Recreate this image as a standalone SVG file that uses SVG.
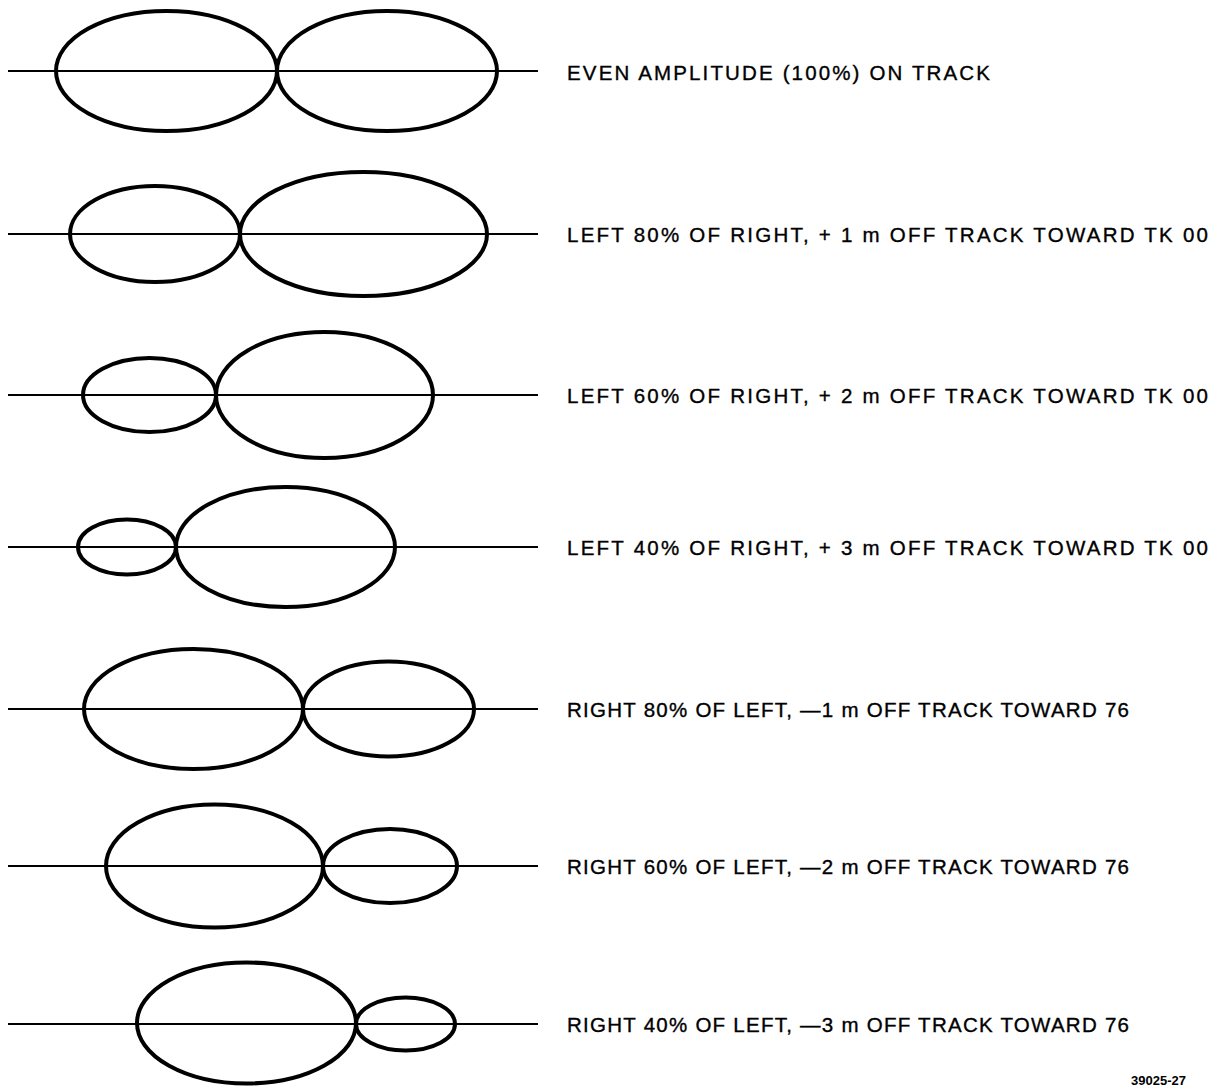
<svg xmlns="http://www.w3.org/2000/svg" width="1220" height="1087" viewBox="0 0 1220 1087">
<style>
.bg{fill:#fff}
.lobe{fill:none;stroke:#000;stroke-width:4}
.axis{stroke:#000;stroke-width:2}
.lbl{font-family:"Liberation Sans",Arial,sans-serif;font-size:20.5px;fill:#000;stroke:#000;stroke-width:0.35}
.code{font-family:"Liberation Sans",Arial,sans-serif;font-size:13px;font-weight:bold;fill:#000}
</style>
<rect class="bg" x="0" y="0" width="1220" height="1087"/>
<g id="axes">
<line class="axis" x1="8" y1="71" x2="538" y2="71"/>
<line class="axis" x1="8" y1="234" x2="538" y2="234"/>
<line class="axis" x1="8" y1="395" x2="538" y2="395"/>
<line class="axis" x1="8" y1="547" x2="538" y2="547"/>
<line class="axis" x1="8" y1="709" x2="538" y2="709"/>
<line class="axis" x1="8" y1="866" x2="538" y2="866"/>
<line class="axis" x1="8" y1="1024" x2="538" y2="1024"/>
</g>
<g id="row1">
<ellipse class="lobe" cx="166.5" cy="71" rx="110.5" ry="60"/>
<ellipse class="lobe" cx="387" cy="71" rx="110" ry="60"/>
<text class="lbl" x="567" y="80" textLength="423" lengthAdjust="spacing">EVEN AMPLITUDE (100%) ON TRACK</text>
</g>
<g id="row2">
<ellipse class="lobe" cx="155" cy="234" rx="85" ry="48"/>
<ellipse class="lobe" cx="363.5" cy="234" rx="123.5" ry="62"/>
<text class="lbl" x="567" y="242" textLength="641" lengthAdjust="spacing">LEFT 80% OF RIGHT,  + 1 m OFF TRACK TOWARD TK 00</text>
</g>
<g id="row3">
<ellipse class="lobe" cx="149.5" cy="395" rx="66.5" ry="37"/>
<ellipse class="lobe" cx="324.5" cy="395" rx="108.5" ry="63"/>
<text class="lbl" x="567" y="403" textLength="641" lengthAdjust="spacing">LEFT 60% OF RIGHT,  + 2 m OFF TRACK TOWARD TK 00</text>
</g>
<g id="row4">
<ellipse class="lobe" cx="127" cy="547" rx="49" ry="27.5"/>
<ellipse class="lobe" cx="285.5" cy="547" rx="109.5" ry="60"/>
<text class="lbl" x="567" y="555" textLength="641" lengthAdjust="spacing">LEFT 40% OF RIGHT,  + 3 m OFF TRACK TOWARD TK 00</text>
</g>
<g id="row5">
<ellipse class="lobe" cx="193.5" cy="709" rx="109.5" ry="60"/>
<ellipse class="lobe" cx="388.5" cy="709" rx="85.5" ry="47.5"/>
<text class="lbl" x="567" y="717" textLength="562" lengthAdjust="spacing">RIGHT 80% OF LEFT, —1 m OFF TRACK TOWARD 76</text>
</g>
<g id="row6">
<ellipse class="lobe" cx="214.5" cy="866" rx="108.5" ry="61.5"/>
<ellipse class="lobe" cx="390" cy="866" rx="67" ry="37"/>
<text class="lbl" x="567" y="874" textLength="562" lengthAdjust="spacing">RIGHT 60% OF LEFT, —2 m OFF TRACK TOWARD 76</text>
</g>
<g id="row7">
<ellipse class="lobe" cx="246.5" cy="1023" rx="109.5" ry="60.5"/>
<ellipse class="lobe" cx="405.5" cy="1024" rx="49.5" ry="26.5"/>
<text class="lbl" x="567" y="1032" textLength="562" lengthAdjust="spacing">RIGHT 40% OF LEFT, —3 m OFF TRACK TOWARD 76</text>
</g>
<text class="code" x="1131" y="1085">39025-27</text>
</svg>
